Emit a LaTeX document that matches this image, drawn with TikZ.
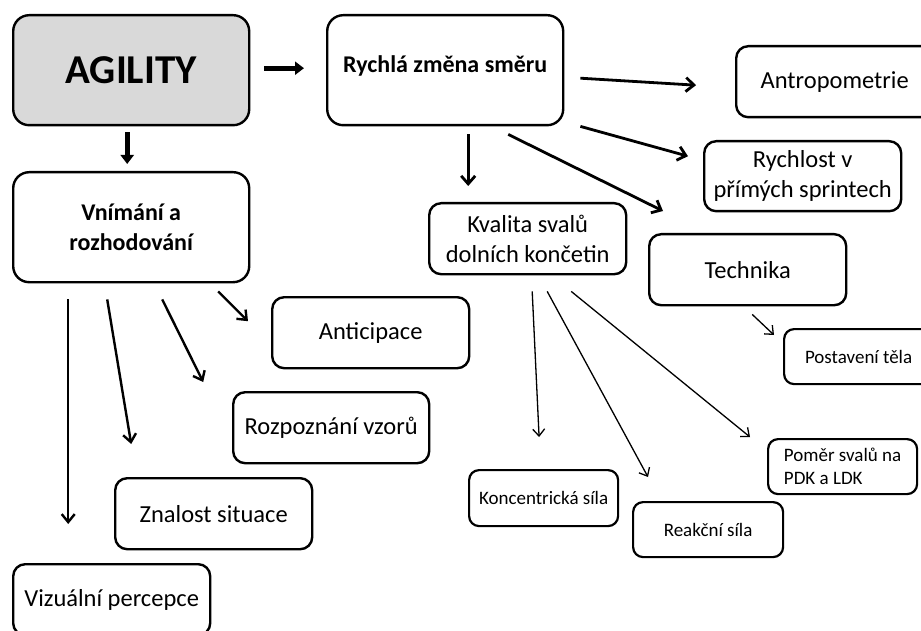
\documentclass[tikz,border=0pt]{standalone}
\usepackage{fontspec}
\setmainfont{Carlito}
\usetikzlibrary{arrows.meta}
\tikzset{
  box/.style={draw=black, line width=2.4pt, rounded corners=16pt, fill=white, anchor=north west, inner sep=0pt, align=center},
  bigbox/.style={box, minimum width=236pt, minimum height=110pt},
  midbox/.style={box, rounded corners=12pt, minimum width=197pt, minimum height=71pt, font=\fontsize{24.5}{30}\selectfont},
  smallbox/.style={box, line width=2.2pt, rounded corners=10pt, minimum width=149pt, minimum height=55pt, font=\fontsize{19}{23}\selectfont},
  thickarr/.style={line width=5pt, -{Triangle[length=9pt,width=13pt]}},
  medarr/.style={line width=2.8pt, -{Straight Barb[length=8pt,width=14pt]}},
  vnarr/.style={line width=2.4pt, -{Straight Barb[length=8pt,width=13pt]}},
  thinarr/.style={line width=1.3pt, -{Straight Barb[length=7pt,width=12pt]}}
}
\begin{document}
\begin{tikzpicture}[x=1pt,y=-1pt]
\useasboundingbox[fill=white] (0,0) rectangle (921,631);
% main boxes
\node[bigbox, fill=black!15, font=\bfseries\fontsize{41}{44}\selectfont] (agil) at (12,14) {AGILITY};
\node[bigbox, font=\bfseries\fontsize{24}{30}\selectfont] (rych) at (326,14) {Rychlá změna směru\\[-26pt]\strut};
\node[bigbox, font=\bfseries\fontsize{24}{30}\selectfont] (vnim) at (12,171) {Vnímání a\\rozhodování};
% right branch
\node[midbox] (antr) at (735,45) {Antropometrie};
\node[midbox, minimum height=70pt] (rsp) at (703,140) {Rychlost v\\přímých sprintech};
\node[midbox] (kval) at (428,202) {Kvalita svalů\\dolních končetin};
\node[midbox] (tech) at (648,233) {Technika};
\node[smallbox] (post) at (783,328) {Postavení těla};
\node[smallbox, align=left] (pom) at (767,438) {Poměr svalů na\\PDK a LDK};
\node[smallbox, minimum height=56pt] (konc) at (468,469) {Koncentrická síla};
\node[smallbox, minimum width=150pt] (reak) at (632,501) {Reakční síla};
% left branch
\node[midbox] (anti) at (271,296) {Anticipace};
\node[midbox, minimum width=196pt] (rozp) at (232,391) {Rozpoznání vzorů};
\node[midbox] (znal) at (114,477) {Znalost situace};
\node[midbox] (vizu) at (12,563) {Vizuální percepce};
% arrows
\draw[thickarr] ([shift={(14,-2)}]agil.east) -- ([shift={(-22,-2)}]rych.west);
\draw[thickarr] ([shift={(-4,6)}]agil.south) -- ([shift={(-4,-7)}]vnim.north);
\draw[medarr] ([shift={(23,8)}]rych.south) -- ([shift={(-59.5,-16)}]kval.north);
\draw[medarr] ([shift={(16,8)}]rych.east) -- ([shift={(-39,3.5)}]antr.west);
\draw[medarr] ([shift={(16,0)}]rych.south east) -- ([shift={(-15,-20)}]rsp.west);
\draw[medarr] ([shift={(63,8)}]rych.south) -- ([shift={(15,-22)}]tech.north west);
\draw[vnarr] ([shift={(-63,16)}]vnim.south) -- ([shift={(-43.5,-39)}]vizu.north);
\draw[vnarr] ([shift={(-24,16)}]vnim.south) -- ([shift={(-82.5,-33)}]znal.north);
\draw[vnarr] ([shift={(31,16)}]vnim.south) -- ([shift={(-128,-9)}]rozp.north);
\draw[vnarr] ([shift={(87,8)}]vnim.south) -- ([shift={(-23,-11.5)}]anti.west);
\draw[thinarr] ([shift={(4.5,16)}]kval.south) -- ([shift={(-4.5,-32)}]konc.north);
\draw[thinarr] ([shift={(19.5,16)}]kval.south) -- ([shift={(16,-24)}]reak.north west);
\draw[thinarr] ([shift={(43.5,16)}]kval.south) -- ([shift={(-17,-1)}]pom.north west);
\draw[thinarr] ([shift={(4.5,8)}]tech.south) -- ([shift={(-9,7)}]post.north west);
\end{tikzpicture}
\end{document}
